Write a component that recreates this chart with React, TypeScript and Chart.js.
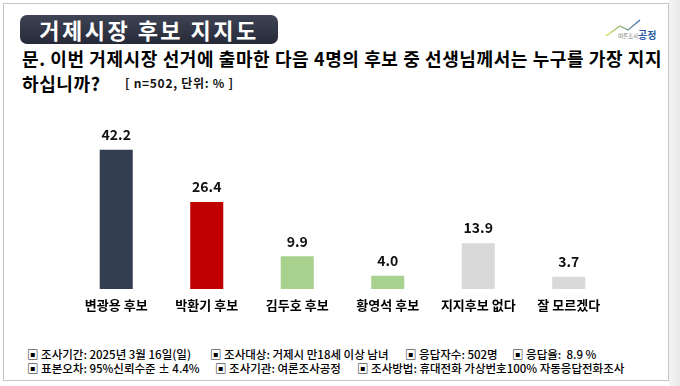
import React, { useEffect, useRef } from "react";
import { Chart, registerables } from "chart.js";

Chart.register(...registerables);

const categories = ["변광용 후보", "박환기 후보", "김두호 후보", "황영석 후보", "지지후보 없다", "잘 모르겠다"];
const supportValues = [42.2, 26.4, 9.9, 4.0, 13.9, 3.7];
const barColors = ["#333F50", "#C00000", "#A9D18E", "#A9D18E", "#D9D9D9", "#D9D9D9"];

const titleText = "거제시장 후보 지지도";
const questionLine1 = "문. 이번 거제시장 선거에 출마한 다음 4명의 후보 중 선생님께서는 누구를 가장 지지";
const questionLine2 = "하십니까?";
const sampleNote = "[ n=502, 단위: % ]";
const footerRow1 = ["▣ 조사기간: 2025년 3월 16일(일)", "▣ 조사대상: 거제시 만18세 이상 남녀", "▣ 응답자수: 502명", "▣ 응답율:  8.9 %"];
const footerRow2 = ["▣ 표본오차: 95%신뢰수준 ± 4.4%", "▣ 조사기관: 여론조사공정", "▣ 조사방법: 휴대전화 가상번호100% 자동응답전화조사"];
const footerRow1X = [27, 210, 405, 512];
const footerRow2X = [27, 215, 357];

const FONT = "'Noto Sans CJK KR', 'Noto Sans', sans-serif";

const valueLabelPlugin = {
  id: "valueLabels",
  afterDatasetsDraw(chart: any) {
    const ctx = chart.ctx;
    const meta = chart.getDatasetMeta(0);
    ctx.save();
    ctx.font = `bold 14px ${FONT}`;
    ctx.fillStyle = "#111";
    ctx.textAlign = "center";
    ctx.textBaseline = "middle";
    meta.data.forEach((bar: any, i: number) => {
      const v = chart.data.datasets[0].data[i];
      ctx.fillText(Number(v).toFixed(1), bar.x, bar.y - 15);
    });
    ctx.restore();
  },
};

function BarChart() {
  const ref = useRef<HTMLCanvasElement | null>(null);
  useEffect(() => {
    if (!ref.current) return;
    const chart = new Chart(ref.current, {
      type: "bar",
      data: {
        labels: categories,
        datasets: [
          {
            data: supportValues,
            backgroundColor: barColors,
            borderWidth: 0,
            barPercentage: 0.365,
            categoryPercentage: 1,
          },
        ],
      },
      options: {
        animation: false,
        responsive: false,
        maintainAspectRatio: false,
        layout: { padding: { left: 71, right: 66, top: 24, bottom: 0 } },
        plugins: { legend: { display: false }, tooltip: { enabled: false } },
        scales: {
          y: { display: false, min: 0, max: 50 },
          x: {
            grid: { display: false, drawTicks: false },
            border: { display: false },
            ticks: {
              color: "#000",
              padding: 8,
              font: { family: FONT, size: 13, weight: "bold" },
            },
            afterFit: (scale: any) => {
              scale.height = 36;
            },
          },
        },
      },
      plugins: [valueLabelPlugin],
    });
    return () => chart.destroy();
  }, []);
  return <canvas ref={ref} width={680} height={225} style={{ position: "absolute", left: 0, top: 100, width: 680, height: 225 }} />;
}

export default function App() {
  return (
    <div style={{ position: "fixed", left: 0, top: 0, width: 680, height: 386, background: "#fff", overflow: "hidden", fontFamily: FONT }}>
      {/* outer frame */}
      <div style={{ position: "absolute", left: 3, top: 3, width: 664, height: 376, border: "1.5px solid #c4c4c4" }} />
      <div style={{ position: "absolute", left: 669, top: 0, width: 11, height: 386, background: "linear-gradient(90deg, #f4f4f4, #e9e9e9)" }} />

      {/* title box */}
      <div
        style={{
          position: "absolute",
          left: 20,
          top: 15,
          width: 258,
          height: 29,
          borderRadius: 7,
          background: "linear-gradient(180deg, #3f4455 0%, #262a38 100%)",
          color: "#fff",
          fontWeight: 700,
          fontSize: 22,
          lineHeight: "29px",
          textAlign: "center",
          letterSpacing: 2.5,
        }}
      >
        {titleText}
      </div>

      {/* logo */}
      <svg style={{ position: "absolute", left: 604, top: 18 }} width={40} height={20}>
        <defs>
          <linearGradient id="lg" x1="0" x2="1" y1="0" y2="0">
            <stop offset="0" stopColor="#d7e04a" />
            <stop offset="1" stopColor="#3a6fb5" />
          </linearGradient>
        </defs>
        <polyline points="2,18 16,8 24,12 36,2" fill="none" stroke="url(#lg)" strokeWidth={1.3} />
      </svg>
      <div style={{ position: "absolute", left: 618, top: 29, fontSize: 5.5, color: "#777", lineHeight: "14px" }}>여론조사</div>
      <div style={{ position: "absolute", left: 638, top: 28, fontSize: 10, fontWeight: 700, color: "#2b5aa8", lineHeight: "14px" }}>공정</div>

      {/* question */}
      <div style={{ position: "absolute", left: 22, top: 47, fontSize: 18, fontWeight: 700, color: "#000", lineHeight: "22px", whiteSpace: "nowrap", letterSpacing: 0.6 }}>
        {questionLine1}
      </div>
      <div style={{ position: "absolute", left: 22, top: 72, fontSize: 18, fontWeight: 700, color: "#000", lineHeight: "22px", whiteSpace: "nowrap", letterSpacing: 0.6 }}>
        {questionLine2}
      </div>
      <div style={{ position: "absolute", left: 125, top: 75, fontSize: 12, fontWeight: 700, color: "#111", lineHeight: "16px", whiteSpace: "pre", letterSpacing: 0.7 }}>
        {sampleNote}
      </div>

      <BarChart />

      {/* footer */}
      {footerRow1.map((t, i) => (
        <div key={"a" + i} style={{ position: "absolute", left: footerRow1X[i], top: 347, fontSize: 11.5, fontWeight: 500, color: "#000", lineHeight: "14px", whiteSpace: "pre" }}>
          {t}
        </div>
      ))}
      {footerRow2.map((t, i) => (
        <div key={"b" + i} style={{ position: "absolute", left: footerRow2X[i], top: 361, fontSize: 11.5, fontWeight: 500, color: "#000", lineHeight: "14px", whiteSpace: "pre" }}>
          {t}
        </div>
      ))}
    </div>
  );
}
